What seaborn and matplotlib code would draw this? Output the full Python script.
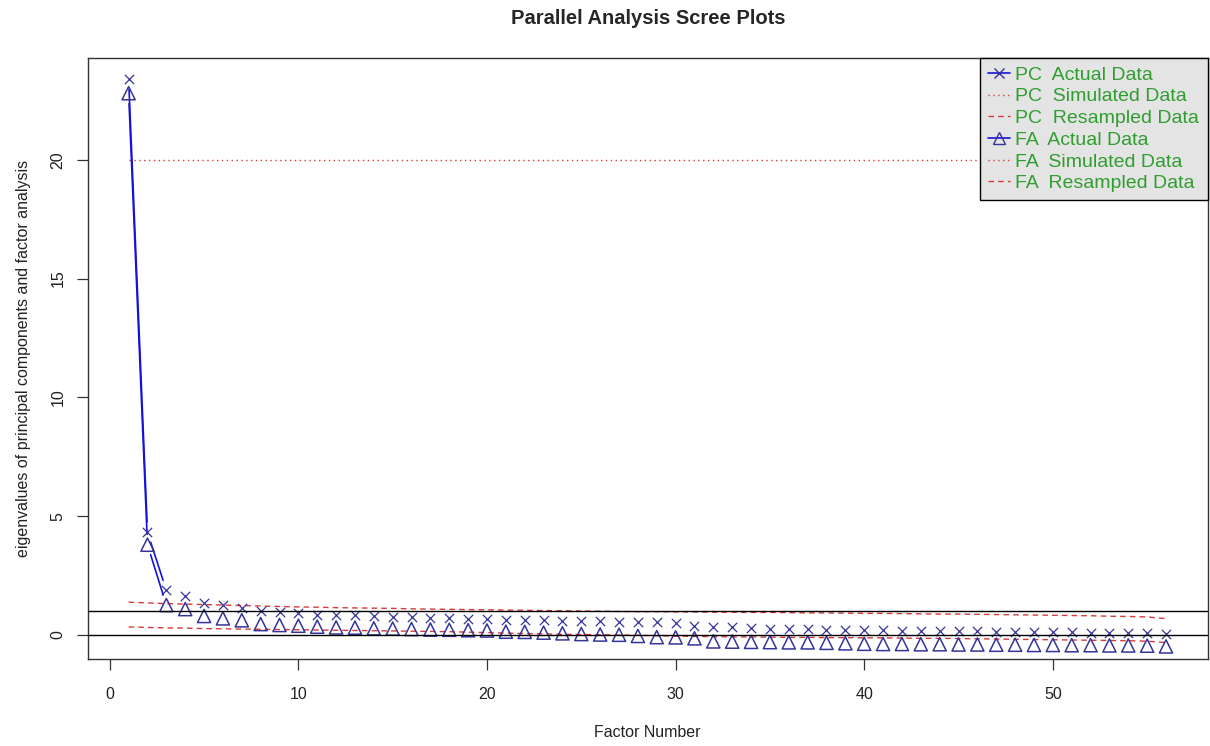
import matplotlib
matplotlib.use("Agg")
import matplotlib.pyplot as plt
import seaborn as sns
import numpy as np
import pandas as pd
from matplotlib.lines import Line2D

sns.set_theme(style="white")
plt.rcParams["font.family"] = ["Liberation Sans", "DejaVu Sans"]

# ---- data -------------------------------------------------------------
factor = list(range(1, 57))

pc_actual = [23.40, 4.32, 1.88, 1.62, 1.36, 1.26, 1.15, 0.99, 0.95, 0.92,
             0.85, 0.84, 0.83, 0.80, 0.75, 0.74, 0.73, 0.70, 0.67, 0.66,
             0.65, 0.63, 0.62, 0.60, 0.59, 0.58, 0.55, 0.54, 0.53, 0.50,
             0.37, 0.34, 0.33, 0.29, 0.26, 0.25, 0.24, 0.21, 0.20, 0.20,
             0.19, 0.18, 0.17, 0.16, 0.16, 0.15, 0.14, 0.13, 0.12, 0.12,
             0.11, 0.10, 0.09, 0.08, 0.07, 0.05]

fa_actual = [22.80, 3.80, 1.26, 1.09, 0.80, 0.70, 0.62, 0.46, 0.42, 0.39,
             0.35, 0.32, 0.31, 0.28, 0.27, 0.25, 0.23, 0.22, 0.20, 0.19,
             0.14, 0.13, 0.10, 0.07, 0.04, 0.02, 0.01, -0.04, -0.09, -0.10,
             -0.14, -0.27, -0.28, -0.29, -0.30, -0.31, -0.31, -0.33, -0.35, -0.37,
             -0.38, -0.38, -0.39, -0.39, -0.40, -0.40, -0.41, -0.41, -0.42, -0.42,
             -0.43, -0.43, -0.44, -0.44, -0.45, -0.48]

pc_simulated = [20.0, 20.0, 20.0, 20.0, 20.0, 20.0, 20.0, 20.0, 20.0, 20.0,
                20.0, 20.0, 20.0, 20.0, 20.0, 20.0, 20.0, 20.0, 20.0, 20.0,
                20.0, 20.0, 20.0, 20.0, 20.0, 20.0, 20.0, 20.0, 20.0, 20.0,
                20.0, 20.0, 20.0, 20.0, 20.0, 20.0, 20.0, 20.0, 20.0, 20.0,
                20.0, 20.0, 20.0, 20.0, 20.0, 20.0, 20.0, 20.0, 20.0, 20.0,
                20.0, 20.0, 20.0, 20.0, 20.0, 20.0]

pc_resampled = [1.38, 1.35, 1.32, 1.30, 1.28, 1.26, 1.24, 1.22, 1.20, 1.18,
                1.17, 1.15, 1.14, 1.13, 1.12, 1.10, 1.09, 1.08, 1.07, 1.06,
                1.05, 1.04, 1.03, 1.02, 1.01, 1.00, 0.99, 0.98, 0.98, 0.97,
                0.97, 0.96, 0.96, 0.95, 0.95, 0.94, 0.93, 0.93, 0.92, 0.91,
                0.91, 0.90, 0.89, 0.88, 0.88, 0.87, 0.86, 0.85, 0.84, 0.83,
                0.82, 0.81, 0.79, 0.78, 0.76, 0.69]

fa_resampled = [0.34, 0.32, 0.30, 0.29, 0.27, 0.26, 0.25, 0.24, 0.23, 0.22,
                0.21, 0.20, 0.19, 0.18, 0.17, 0.16, 0.15, 0.14, 0.12, 0.10,
                0.08, 0.06, 0.05, 0.03, 0.02, 0.01, 0.00, -0.01, -0.03, -0.05,
                -0.06, -0.07, -0.08, -0.08, -0.09, -0.10, -0.10, -0.11, -0.11, -0.12,
                -0.12, -0.13, -0.14, -0.14, -0.15, -0.16, -0.17, -0.18, -0.19, -0.20,
                -0.21, -0.22, -0.23, -0.24, -0.26, -0.32]

legend_labels = ["PC  Actual Data", "PC  Simulated Data", "PC  Resampled Data",
                 "FA  Actual Data", "FA  Simulated Data", "FA  Resampled Data"]

x_ticks = [0, 10, 20, 30, 40, 50]
y_ticks = [0, 5, 10, 15, 20]

# ---- styling ----------------------------------------------------------
BLUE_LINE = "#1414d8"
BLUE_MARK = "#34349a"
RED = "#d83a3a"
TEXT = "#222222"
GREEN = "#2f9e2f"

df = pd.DataFrame({"factor": factor, "pc": pc_actual, "fa": fa_actual,
                   "pc_sim": pc_simulated, "pc_res": pc_resampled,
                   "fa_res": fa_resampled})

fig = plt.figure(figsize=(12.1, 7.46), dpi=100)
ax = fig.add_axes([87.5 / 1210, (746 - 659) / 746, 1120 / 1210, 601 / 746])
ax.set_xlim(-1.18, 58.2)
ax.set_ylim(-1.01, 24.28)
fig.canvas.draw()


def broken_line(xs, ys, gap_px, **kw):
    """Connect points like R's type='b': segments stop short of each point."""
    pts = ax.transData.transform(np.column_stack([xs, ys]))
    inv = ax.transData.inverted()
    for p, q in zip(pts[:-1], pts[1:]):
        d = q - p
        length = np.hypot(*d)
        if length <= 2 * gap_px:
            continue
        u = d / length
        seg = inv.transform(np.array([p + u * gap_px, q - u * gap_px]))
        ax.plot(seg[:, 0], seg[:, 1], **kw)


# PC actual: crosses joined by a broken line
broken_line(factor, pc_actual, 10.5, color=BLUE_LINE, lw=1.2, zorder=3)
sns.scatterplot(data=df, x="factor", y="pc", marker="x", s=45, color=BLUE_MARK,
                linewidth=0.9, ax=ax, zorder=4, legend=False)

# simulated and resampled reference lines
sns.lineplot(data=df, x="factor", y="pc_sim", color=RED, lw=1.0,
             linestyle=(0, (1, 2.5)), ax=ax, zorder=2, legend=False)
sns.lineplot(data=df, x="factor", y="pc_res", color=RED, lw=1.0,
             linestyle=(0, (4, 3)), ax=ax, zorder=2, legend=False)
sns.lineplot(data=df, x="factor", y="fa_res", color=RED, lw=1.0,
             linestyle=(0, (4, 3)), ax=ax, zorder=2, legend=False)

# FA actual: open triangles joined by a broken line
broken_line(factor, fa_actual, 10.5, color=BLUE_LINE, lw=1.2, zorder=3)
sns.scatterplot(data=df, x="factor", y="fa", marker="^", s=90,
                facecolor="none", edgecolor=BLUE_MARK, linewidth=1.1,
                ax=ax, zorder=4, legend=False)

# reference lines at eigenvalue 1 and 0
ax.axhline(1, color="black", lw=1.0, zorder=5)
ax.axhline(0, color="black", lw=1.0, zorder=5)

ax.set_xlim(-1.18, 58.2)
ax.set_ylim(-1.01, 24.28)

# axes: box with outward ticks
for sp in ax.spines.values():
    sp.set_color("#333333")
    sp.set_linewidth(1.0)
ax.set_xticks(x_ticks)
ax.set_yticks(y_ticks)
ax.tick_params(axis="both", direction="out", length=8, width=0.9,
               color="#333333", labelcolor=TEXT, labelsize=11.5,
               bottom=True, left=True)
ax.tick_params(axis="x", pad=12)
ax.tick_params(axis="y", pad=8)
for lab in ax.get_yticklabels():
    lab.set_rotation(90)
    lab.set_va("center")
ax.grid(False)

ax.set_xlabel("Factor Number", fontsize=11.5, color=TEXT, labelpad=17)
ax.set_ylabel("eigenvalues of principal components and factor analysis",
              fontsize=11.5, color=TEXT, labelpad=14)
fig.suptitle("Parallel Analysis Scree Plots", fontsize=14.5, fontweight="bold",
             x=648 / 1210, y=1 - 9 / 746, va="top")

handles = [
    Line2D([], [], color=BLUE_LINE, lw=1.2, marker="x", markersize=6.5,
           markeredgecolor=BLUE_MARK),
    Line2D([], [], color=RED, lw=1.0, linestyle=(0, (1, 2.5))),
    Line2D([], [], color=RED, lw=1.0, linestyle=(0, (4, 3))),
    Line2D([], [], color=BLUE_LINE, lw=1.2, marker="^", markersize=8,
           markerfacecolor="none", markeredgecolor=BLUE_MARK),
    Line2D([], [], color=RED, lw=1.0, linestyle=(0, (1, 2.5))),
    Line2D([], [], color=RED, lw=1.0, linestyle=(0, (4, 3))),
]
leg = ax.legend(handles, legend_labels, loc="upper right", borderaxespad=0,
                fontsize=14, frameon=True, fancybox=False, handlelength=1.1,
                labelspacing=0.21, borderpad=0.42, handletextpad=0.3)
leg.get_frame().set_facecolor("#e4e4e4")
leg.get_frame().set_edgecolor("black")
leg.get_frame().set_linewidth(1.0)
leg.get_frame().set_alpha(1)
leg.set_zorder(10)
for t in leg.get_texts():
    t.set_color(GREEN)

fig.savefig("out.png", dpi=100)
